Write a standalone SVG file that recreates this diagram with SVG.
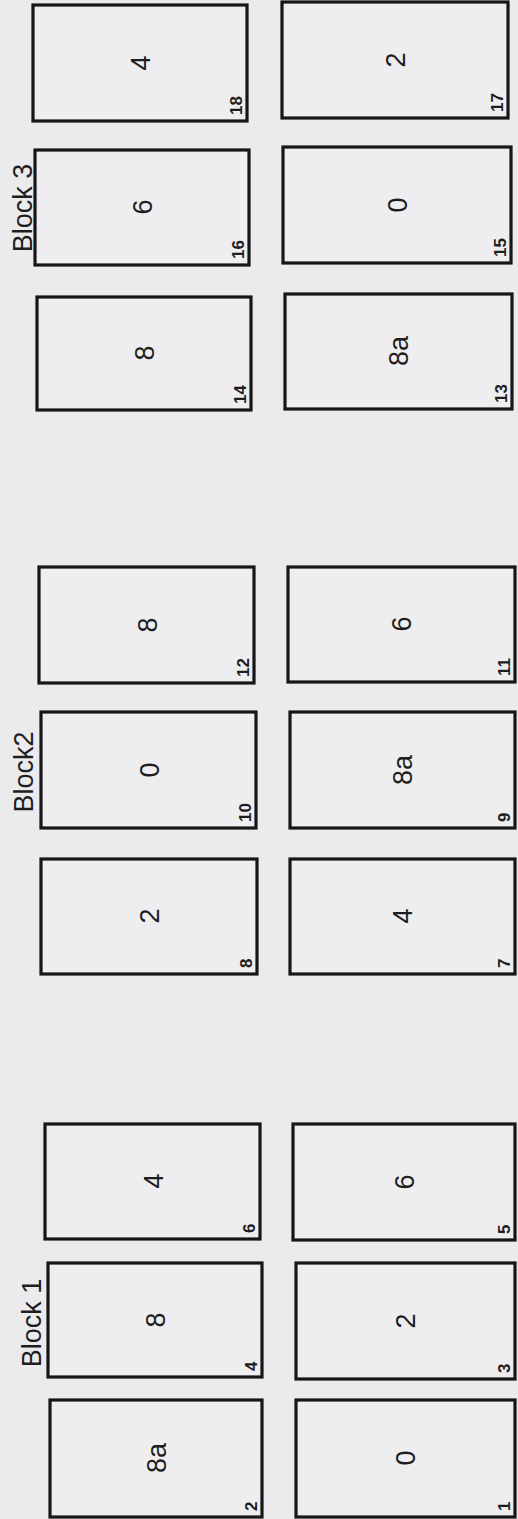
<svg xmlns="http://www.w3.org/2000/svg" width="518" height="1519" viewBox="0 0 518 1519">
<style>
.bg{fill:#ebebed}
.box{fill:#eeeef0;stroke:#161616;stroke-width:3.2}
.main{font-family:"Liberation Sans",Arial,sans-serif;font-size:27px;fill:#1e1e1e;text-anchor:middle}
.num{font-family:"Liberation Sans",Arial,sans-serif;font-size:17px;font-weight:bold;fill:#1e1e1e;text-anchor:start}
.blk{font-family:"Liberation Sans",Arial,sans-serif;font-size:27px;fill:#1e1e1e;text-anchor:middle}
</style>
<rect class="bg" x="0" y="0" width="518" height="1519"/>
<g id="labels">
<text class="blk" transform="translate(32,208) rotate(-90)">Block 3</text>
<text class="blk" transform="translate(33,772) rotate(-90)">Block2</text>
<text class="blk" transform="translate(41,1323) rotate(-90)">Block 1</text>
</g>
<g id="n18"><rect class="box" x="33" y="5" width="214" height="116"/><text class="main" transform="translate(150,63) rotate(-90)">4</text><text class="num" transform="translate(242,115) rotate(-90)">18</text></g>
<g id="n16"><rect class="box" x="35" y="150" width="214" height="115"/><text class="main" transform="translate(152,207) rotate(-90)">6</text><text class="num" transform="translate(244,259) rotate(-90)">16</text></g>
<g id="n14"><rect class="box" x="37" y="297" width="214" height="113"/><text class="main" transform="translate(154,353) rotate(-90)">8</text><text class="num" transform="translate(246,404) rotate(-90)">14</text></g>
<g id="n12"><rect class="box" x="39" y="567" width="215" height="116"/><text class="main" transform="translate(157,625) rotate(-90)">8</text><text class="num" transform="translate(249,677) rotate(-90)">12</text></g>
<g id="n10"><rect class="box" x="41" y="712" width="215" height="116"/><text class="main" transform="translate(159,770) rotate(-90)">0</text><text class="num" transform="translate(251,822) rotate(-90)">10</text></g>
<g id="n8"><rect class="box" x="41" y="859" width="216" height="115"/><text class="main" transform="translate(159,916) rotate(-90)">2</text><text class="num" transform="translate(252,968) rotate(-90)">8</text></g>
<g id="n6"><rect class="box" x="45" y="1124" width="215" height="115"/><text class="main" transform="translate(163,1181) rotate(-90)">4</text><text class="num" transform="translate(255,1233) rotate(-90)">6</text></g>
<g id="n4"><rect class="box" x="48" y="1263" width="214" height="114"/><text class="main" transform="translate(165,1320) rotate(-90)">8</text><text class="num" transform="translate(257,1371) rotate(-90)">4</text></g>
<g id="n2"><rect class="box" x="50" y="1400" width="212" height="117"/><text class="main" transform="translate(166,1458) rotate(-90)">8a</text><text class="num" transform="translate(257,1511) rotate(-90)">2</text></g>
<g id="n17"><rect class="box" x="282" y="2" width="226" height="116"/><text class="main" transform="translate(405,60) rotate(-90)">2</text><text class="num" transform="translate(503,112) rotate(-90)">17</text></g>
<g id="n15"><rect class="box" x="283" y="147" width="228" height="116"/><text class="main" transform="translate(407,205) rotate(-90)">0</text><text class="num" transform="translate(506,257) rotate(-90)">15</text></g>
<g id="n13"><rect class="box" x="285" y="294" width="227" height="115"/><text class="main" transform="translate(408,351) rotate(-90)">8a</text><text class="num" transform="translate(507,403) rotate(-90)">13</text></g>
<g id="n11"><rect class="box" x="288" y="567" width="227" height="115"/><text class="main" transform="translate(411,624) rotate(-90)">6</text><text class="num" transform="translate(510,676) rotate(-90)">11</text></g>
<g id="n9"><rect class="box" x="290" y="712" width="225" height="116"/><text class="main" transform="translate(412,770) rotate(-90)">8a</text><text class="num" transform="translate(510,822) rotate(-90)">9</text></g>
<g id="n7"><rect class="box" x="290" y="859" width="225" height="115"/><text class="main" transform="translate(412,916) rotate(-90)">4</text><text class="num" transform="translate(510,968) rotate(-90)">7</text></g>
<g id="n5"><rect class="box" x="293" y="1124" width="222" height="116"/><text class="main" transform="translate(414,1182) rotate(-90)">6</text><text class="num" transform="translate(510,1234) rotate(-90)">5</text></g>
<g id="n3"><rect class="box" x="296" y="1263" width="219" height="116"/><text class="main" transform="translate(415,1321) rotate(-90)">2</text><text class="num" transform="translate(510,1373) rotate(-90)">3</text></g>
<g id="n1"><rect class="box" x="296" y="1400" width="219" height="117"/><text class="main" transform="translate(415,1458) rotate(-90)">0</text><text class="num" transform="translate(510,1511) rotate(-90)">1</text></g>
<g id="connectors"/>
</svg>
